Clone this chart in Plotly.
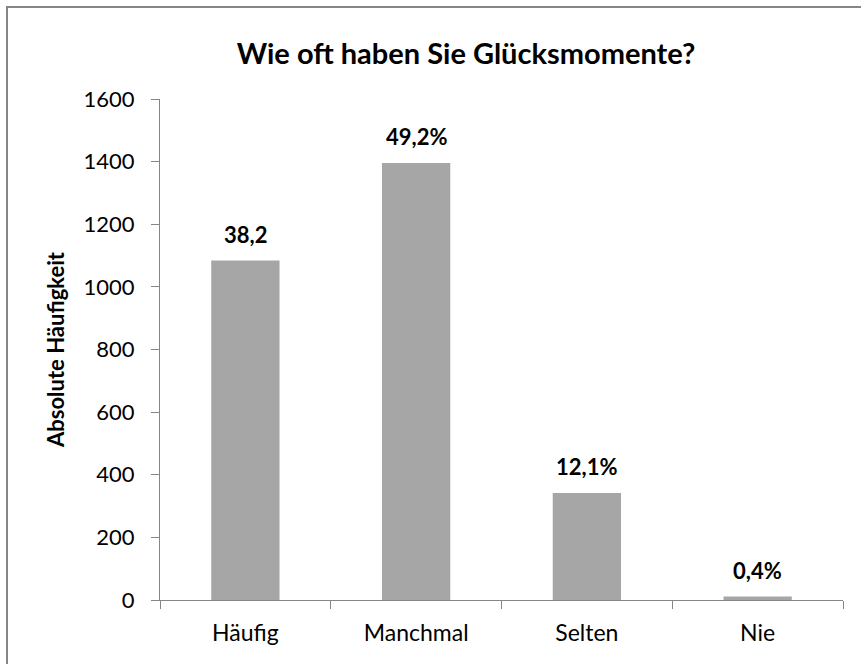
import plotly.graph_objects as go

categories = ["Häufig", "Manchmal", "Selten", "Nie"]
counts = [1084, 1396, 342, 11]
bar_labels = ["38,2", "49,2%", "12,1%", "0,4%"]
y_ticks = [0, 200, 400, 600, 800, 1000, 1200, 1400, 1600]

title_text = "Wie oft haben Sie Glücksmomente?"
y_title = "Absolute Häufigkeit"

FONT = "Lato"
AXIS = "#868686"
BAR = "#A6A6A6"

W, H = 861, 664
L, R, T, B = 160, 18, 99, 64
pw = W - L - R
ph = H - T - B

def px_x(x):
    return (x - L) / pw

def px_y(y):
    return (H - B - y) / ph

fig = go.Figure()
fig.add_trace(go.Bar(
    x=categories, y=counts,
    marker=dict(color=BAR, line=dict(width=0)),
    width=0.4, hoverinfo="x+y",
))

annotations = []
for c, v, t in zip(categories, counts, bar_labels):
    annotations.append(dict(
        x=c, y=v, xref="x", yref="y", text=t, showarrow=False,
        yanchor="middle", yshift=26,
        font=dict(family=FONT, size=22, color="black", weight="bold"),
    ))

fig.update_layout(
    width=W, height=H,
    margin=dict(l=L, r=R, t=T, b=B, pad=0),
    paper_bgcolor="white", plot_bgcolor="white",
    showlegend=False,
    bargap=0.6,
    title=dict(
        text=title_text, x=466 / W, xanchor="center", xref="container",
        y=1 - 54 / H, yanchor="middle", yref="container",
        font=dict(family=FONT, size=29, color="black", weight="bold"),
    ),
    font=dict(family=FONT, color="black"),
    annotations=annotations,
    shapes=[
        dict(type="line", xref="paper", yref="paper",
             x0=px_x(7), x1=px_x(7), y0=px_y(7), y1=px_y(700),
             line=dict(color=AXIS, width=2)),
        dict(type="line", xref="paper", yref="paper",
             x0=px_x(6), x1=px_x(900), y0=px_y(7), y1=px_y(7),
             line=dict(color=AXIS, width=2)),
    ],
)

fig.update_xaxes(
    showgrid=False, zeroline=False,
    showline=True, linecolor=AXIS, linewidth=1,
    ticks="outside", tickson="boundaries", ticklen=8, tickcolor=AXIS, tickwidth=1,
    tickfont=dict(family=FONT, size=23, color="black"),
    ticklabelstandoff=12,
)
fig.update_yaxes(
    range=[0, 1600], tickvals=y_ticks,
    showgrid=False, zeroline=False,
    showline=True, linecolor=AXIS, linewidth=1,
    ticks="outside", ticklen=8, tickcolor=AXIS, tickwidth=1,
    tickfont=dict(family=FONT, size=22, color="black"),
    ticklabelstandoff=12,
    title=dict(text=y_title, standoff=12,
               font=dict(family=FONT, size=22, color="black", weight="bold")),
)

fig.write_html(
    "out.html",
    config={"displayModeBar": False},
    post_script="document.body.style.margin='0';document.body.style.overflow='hidden';",
)
